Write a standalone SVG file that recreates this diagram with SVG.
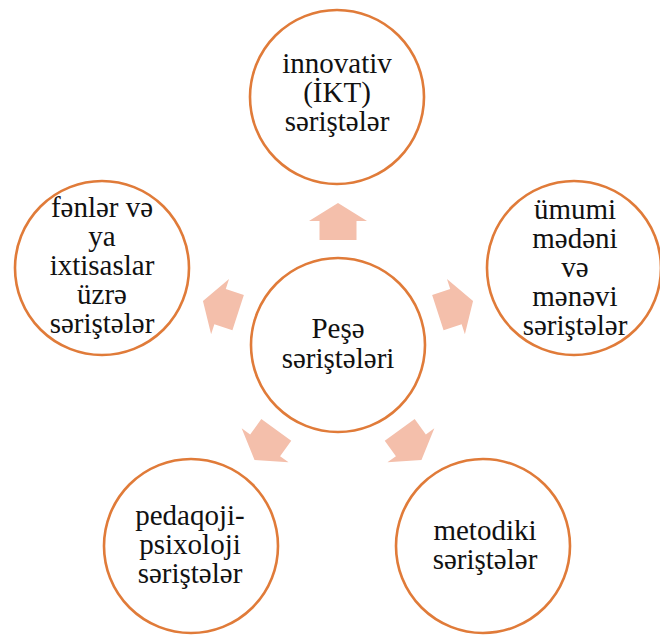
<svg xmlns="http://www.w3.org/2000/svg" width="660" height="637" viewBox="0 0 660 637">
<defs>
<path id="arr" d="M-18.5,-105 L-18.5,-124 L-29,-124 L0,-142 L29,-124 L18.5,-124 L18.5,-105 Z" fill="#F4BFAB"/>
<circle id="ring" r="87" fill="#fff" stroke="#E07B39" stroke-width="2.6"/>
</defs>
<rect width="660" height="637" fill="#fff"/>
<g id="connectors">
<use href="#arr" transform="translate(338,345) rotate(0)"/>
<use href="#arr" transform="translate(338,345) rotate(72)"/>
<use href="#arr" transform="translate(338,345) rotate(144)"/>
<use href="#arr" transform="translate(338,345) rotate(216)"/>
<use href="#arr" transform="translate(338,345) rotate(288)"/>
</g>
<g font-family="Liberation Serif" font-size="29" fill="#111" text-anchor="middle">
<g id="center">
<use href="#ring" x="338" y="345"/>
<text x="338" y="338">Peşə</text>
<text x="338" y="368">səriştələri</text>
</g>
<g id="top">
<use href="#ring" x="337" y="97"/>
<text x="337" y="73">innovativ</text>
<text x="337" y="102">(İKT)</text>
<text x="337" y="131">səriştələr</text>
</g>
<g id="right">
<use href="#ring" x="574" y="268"/>
<text x="575" y="219">ümumi</text>
<text x="575" y="248">mədəni</text>
<text x="575" y="277">və</text>
<text x="575" y="306">mənəvi</text>
<text x="575" y="335">səriştələr</text>
</g>
<g id="left">
<use href="#ring" x="102" y="268"/>
<text x="102" y="217">fənlər və</text>
<text x="102" y="246">ya</text>
<text x="102" y="275">ixtisaslar</text>
<text x="102" y="304">üzrə</text>
<text x="102" y="333">səriştələr</text>
</g>
<g id="bottom-left">
<use href="#ring" x="191" y="546"/>
<text x="190" y="525">pedaqoji-</text>
<text x="190" y="554">psixoloji</text>
<text x="190" y="583">səriştələr</text>
</g>
<g id="bottom-right">
<use href="#ring" x="483" y="546"/>
<text x="485" y="540">metodiki</text>
<text x="485" y="569">səriştələr</text>
</g>
</g>
</svg>
